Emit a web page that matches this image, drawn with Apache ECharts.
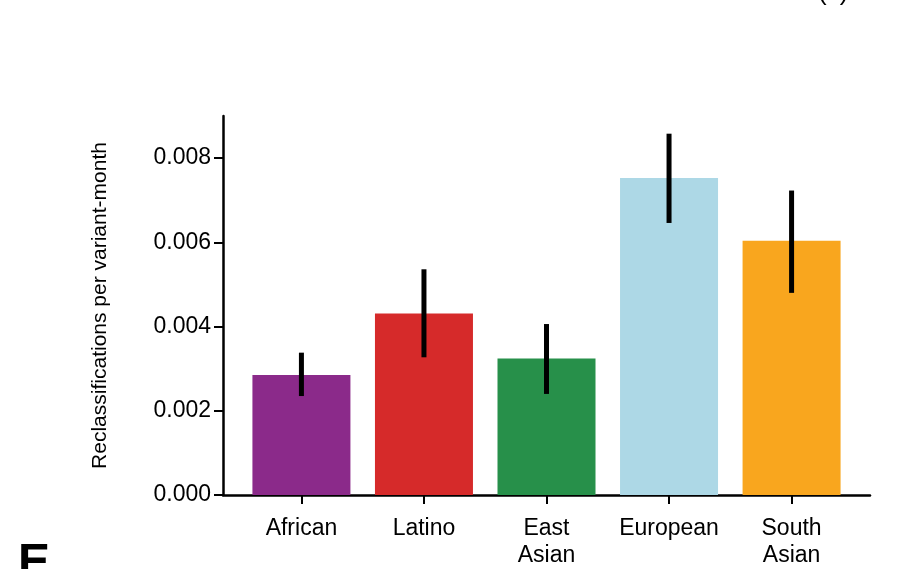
<!DOCTYPE html>
<html>
<head>
<meta charset="utf-8">
<script src="https://cdn.jsdelivr.net/npm/echarts@6/dist/echarts.min.js"></script>
<style>html,body{margin:0;padding:0;background:#fff}#chart{width:914px;height:569px}</style>
</head>
<body>
<div id="chart"></div>
<script>
var categories = ['African', 'Latino', 'East\nAsian', 'European', 'South\nAsian'];
var values = [0.00285, 0.00431, 0.00324, 0.00753, 0.00604];
var errLow = [0.00235, 0.00327, 0.00240, 0.00646, 0.00480];
var errHigh = [0.00338, 0.00536, 0.00406, 0.00858, 0.00723];
var colors = ['#8B2A8A', '#D62A2A', '#27904A', '#ADD8E6', '#F9A61E'];
var yTicks = [0, 0.002, 0.004, 0.006, 0.008];

var font = 'Liberation Sans, Arial, sans-serif';
var chart = echarts.init(document.getElementById('chart'));

var barData = values.map(function (v, i) {
    return { value: [i, v], itemStyle: { color: colors[i] } };
});
var errData = values.map(function (v, i) {
    return [i, errLow[i], errHigh[i]];
});

chart.setOption({
    animation: false,
    backgroundColor: '#fff',
    grid: { left: 223, right: 44, top: 116, bottom: 62 },
    xAxis: {
        type: 'value', min: -0.64, max: 4.64,
        splitLine: { show: false },
        axisLine: { lineStyle: { color: '#000', width: 2.5 } },
        axisTick: { customValues: [0, 1, 2, 3, 4], length: 9, lineStyle: { color: '#000', width: 2 } },
        axisLabel: {
            customValues: [0, 1, 2, 3, 4], margin: 20, color: '#000', fontSize: 23, fontFamily: font, lineHeight: 27,
            verticalAlign: 'top',
            formatter: function (v) { return categories[Math.round(v)]; }
        }
    },
    yAxis: {
        type: 'value', min: 0, max: 0.009,
        name: 'Reclassifications per variant-month', nameLocation: 'middle', nameGap: 112,
        nameTextStyle: { color: '#000', fontSize: 21, fontFamily: font },
        splitLine: { show: false },
        axisLine: { show: true, onZero: false, lineStyle: { color: '#000', width: 2.5 } },
        axisTick: { customValues: yTicks, length: 9, lineStyle: { color: '#000', width: 2 } },
        axisLabel: {
            customValues: yTicks, margin: 12, color: '#000', fontSize: 23, fontFamily: font,
            formatter: function (v) { return v.toFixed(3); }
        }
    },
    graphic: [
        { type: 'text', left: 818, top: -20, style: { text: '(c)', fontSize: 26, fontFamily: font, fill: '#000' } },
        { type: 'text', left: 18, top: 540, style: { text: 'E', fontSize: 48, fontWeight: 'bold', fontFamily: font, fill: '#000' } }
    ],
    series: [
        { type: 'bar', data: barData, barWidth: 98 },
        {
            type: 'custom', data: errData, z: 10,
            renderItem: function (params, api) {
                var lo = api.coord([api.value(0), api.value(1)]);
                var hi = api.coord([api.value(0), api.value(2)]);
                return { type: 'line', shape: { x1: lo[0], y1: lo[1], x2: hi[0], y2: hi[1] }, style: { stroke: '#000', lineWidth: 5 } };
            }
        }
    ]
});
</script>
</body>
</html>
